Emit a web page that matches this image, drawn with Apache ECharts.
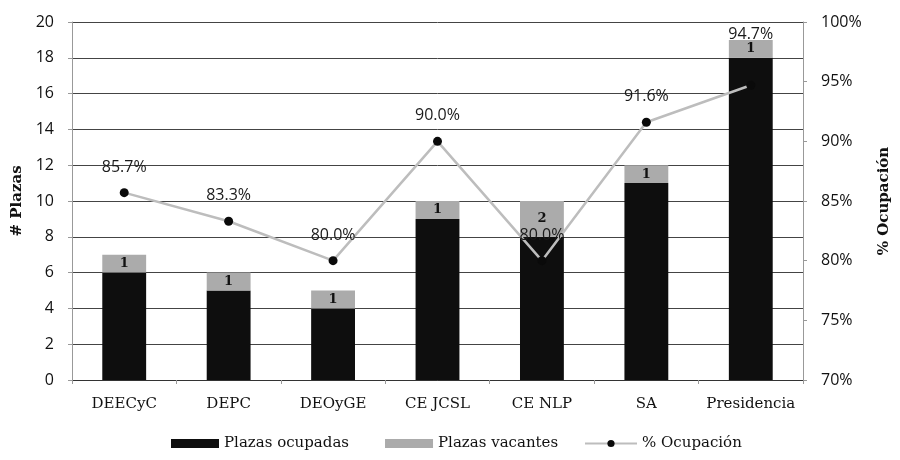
<!DOCTYPE html>
<html>
<head>
<meta charset="utf-8">
<script src="https://cdn.jsdelivr.net/npm/echarts@6/dist/echarts.min.js"></script>
<style>html,body{margin:0;padding:0;background:#fff;}#c{width:900px;height:460px;}</style>
</head>
<body>
<div id="c"></div>
<script>
const categories = ['DEECyC', 'DEPC', 'DEOyGE', 'CE JCSL', 'CE NLP', 'SA', 'Presidencia'];
const ocupadas = [6, 5, 4, 9, 8, 11, 18];
const vacantes = [1, 1, 1, 1, 2, 1, 1];
const ocupacion = [85.7, 83.3, 80.0, 90.0, 80.0, 91.6, 94.7];
const leftTicks = { min: 0, max: 20, interval: 2 };
const rightTicks = { min: 70, max: 100, interval: 5 };

const chart = echarts.init(document.getElementById('c'), null, { renderer: 'canvas' });
const serif = 'DejaVu Serif';
const sans = 'Open Sans';

const lineData = ocupacion.map((v, i) => {
  if (i === ocupacion.length - 1) {
    return { value: v, label: { distance: 38 } };
  }
  return v;
});

const legendText = { fontFamily: serif, fontSize: 15, color: '#111' };

chart.setOption({
  animation: false,
  backgroundColor: '#ffffff',
  grid: { left: 72, right: 93, top: 22, bottom: 80, containLabel: false },
  legend: [
    {
      left: 166, top: 431,
      itemWidth: 48, itemHeight: 9, itemGap: 36,
      textStyle: legendText,
      data: [
        { name: 'Plazas ocupadas', icon: 'rect' },
        { name: 'Plazas vacantes', icon: 'rect' }
      ]
    },
    {
      left: 579, top: 431,
      itemWidth: 52, itemHeight: 9,
      textStyle: legendText,
      data: [{ name: '% Ocupación' }]
    }
  ],
  xAxis: {
    type: 'category',
    data: categories,
    axisLine: { lineStyle: { color: '#333', width: 1 } },
    axisTick: { show: true, length: 4, lineStyle: { color: '#999' } },
    axisLabel: { interval: 0, fontFamily: serif, fontSize: 15, color: '#111', margin: 17 }
  },
  yAxis: [
    {
      type: 'value', min: leftTicks.min, max: leftTicks.max, interval: leftTicks.interval,
      name: '# Plazas', nameLocation: 'middle', nameGap: 43, nameRotate: 90,
      nameTextStyle: { fontFamily: serif, fontSize: 15, fontWeight: 'bold', color: '#111' },
      axisLine: { show: true, lineStyle: { color: '#999' } },
      axisTick: { show: true, length: 4, lineStyle: { color: '#999' } },
      axisLabel: { fontFamily: sans, fontSize: 16, color: '#111', margin: 18 },
      splitLine: { show: true, lineStyle: { color: '#444', width: 1 } }
    },
    {
      type: 'value', min: rightTicks.min, max: rightTicks.max, interval: rightTicks.interval,
      position: 'right',
      name: '% Ocupación', nameLocation: 'middle', nameGap: 74, nameRotate: 90,
      nameTextStyle: { fontFamily: serif, fontSize: 15, fontWeight: 'bold', color: '#111' },
      axisLine: { show: true, lineStyle: { color: '#999' } },
      axisTick: { show: true, length: 4, lineStyle: { color: '#999' } },
      axisLabel: { fontFamily: sans, fontSize: 16, color: '#111', margin: 18, formatter: '{value}%' },
      splitLine: { show: false }
    }
  ],
  series: [
    {
      name: 'Plazas ocupadas', type: 'bar', stack: 'plazas', yAxisIndex: 0,
      data: ocupadas, barWidth: '42%',
      itemStyle: { color: '#0e0e0e' }
    },
    {
      name: 'Plazas vacantes', type: 'bar', stack: 'plazas', yAxisIndex: 0,
      data: vacantes, barWidth: '42%',
      itemStyle: { color: '#ababab' },
      label: { show: true, position: 'inside', fontFamily: serif, fontSize: 13, fontWeight: 'bold', color: '#111' }
    },
    {
      name: '% Ocupación', type: 'line', yAxisIndex: 1,
      data: lineData, z: 5,
      symbol: 'circle', symbolSize: 9,
      lineStyle: { color: '#bdbdbd', width: 2.5 },
      itemStyle: { color: '#0a0a0a' },
      label: {
        show: true, position: 'top', distance: 13,
        fontFamily: sans, fontSize: 16, color: '#1a1a1a',
        formatter: p => p.value.toFixed(1) + '%'
      }
    }
  ]
});
</script>
</body>
</html>
